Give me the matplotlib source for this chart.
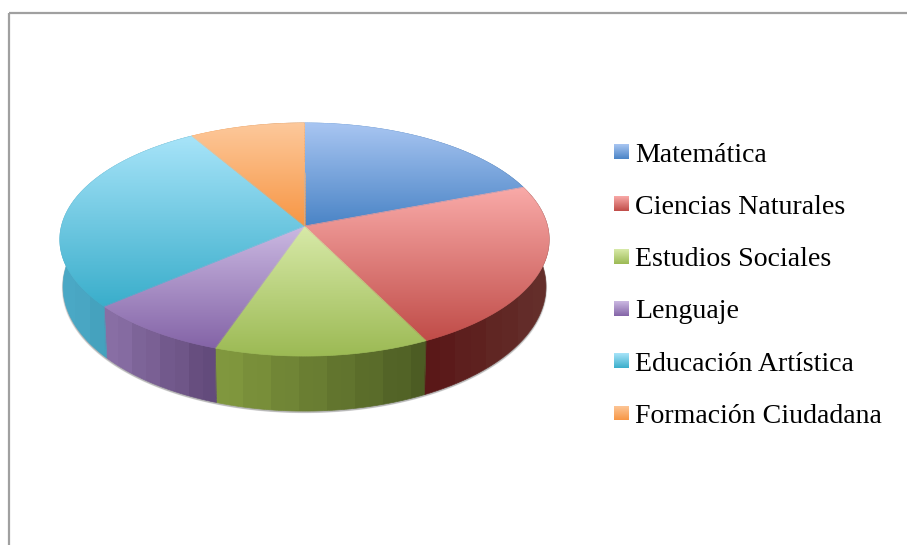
import numpy as np
import matplotlib
matplotlib.use("Agg")
import matplotlib.pyplot as plt
from matplotlib.patches import Polygon
from matplotlib.collections import LineCollection
from matplotlib.colors import LinearSegmentedColormap

# datos (porcentaje de cada materia)
materias = ["Matemática", "Ciencias Naturales", "Estudios Sociales",
            "Lenguaje", "Educación Artística", "Formación Ciudadana"]
valores = [19.3, 23.3, 12.7, 8.5, 27.7, 8.5]

color_claro = ["#a9c6f2", "#f9aaa8", "#d8eaa9", "#cbb9e2", "#a8e4f9", "#fdc99c"]
color_oscuro = ["#4a84c6", "#c04c48", "#9cba54", "#8464a7", "#3aaecb", "#f79644"]
pared_izq = ["#4a84c6", "#5a1818", "#82993f", "#8a70a6", "#4ba9c6", "#f79644"]
pared_der = ["#2f5f94", "#66332e", "#4a5a22", "#5d4575", "#3690a8", "#b06a30"]

# geometria del pastel en pixeles
cx, cy = 304.5, 226.0
A, B, k = 243.0, 115.0, 0.116
grosor = 46.0

fig = plt.figure(figsize=(9.07, 5.45), dpi=100)
ax = fig.add_axes([0, 0, 1, 1])


def arco(t1, t2):
    t = np.radians(np.linspace(t1, t2, max(int(t2 - t1) * 2, 3)))
    return np.sin(t), np.cos(t)


def tapa(u, v):
    w = 1 + k * v
    return cx + A * u / w, cy - B * v / w


def base(u, v):
    x, y = tapa(u, v)
    return cx + 0.987 * (x - cx), cy + grosor + 1.069 * (y - cy)


def degradado(xy, c1, c2, z, vertical=True, ancho_banda=0, borde=True):
    # imagen con degradado recortada por el poligono
    x0, x1, y0, y1 = xy[:, 0].min(), xy[:, 0].max(), xy[:, 1].min(), xy[:, 1].max()
    cmap = LinearSegmentedColormap.from_list("g", [c1, c2])
    g = np.linspace(0, 1, 256)
    if ancho_banda:
        bandas = max(int((x1 - x0) / ancho_banda), 2)
        idx = np.floor(g * bandas)
        g = np.clip(idx / bandas + 0.025 * np.where(idx % 2 == 0, 1, -1), 0, 1)
    g2 = g[:, None] if vertical else g[None, :]
    im = ax.imshow(g2, extent=(x0, x1, y1, y0), aspect="auto", cmap=cmap, vmin=0, vmax=1,
                   interpolation="nearest" if ancho_banda else "bilinear", zorder=z)
    poly = Polygon(xy, closed=True, fc="none", ec="none", zorder=z)
    ax.add_patch(poly)
    im.set_clip_path(poly)
    if not borde:
        return
    # borde fino para suavizar el recorte, en tramos cortos para seguir el degradado
    pts = np.r_[xy, xy[:1]]
    segs = []
    for a, b in zip(pts[:-1], pts[1:]):
        n = max(int(np.hypot(*(b - a)) / 3), 1)
        p = a + np.linspace(0, 1, n + 1)[:, None] * (b - a)
        segs.extend(np.stack([p[:-1], p[1:]], axis=1))
    segs = np.array(segs)
    if vertical:
        t = (segs[:, :, 1].mean(axis=1) - y0) / max(y1 - y0, 1)
    else:
        t = (segs[:, :, 0].mean(axis=1) - x0) / max(x1 - x0, 1)
    ax.add_collection(LineCollection(segs, colors=cmap(t), linewidths=0.5, zorder=z + 0.1))


# sombra debajo del pastel
u, v = arco(0, 360)
xb, yb = base(u, v)
for i in range(5):
    s = 1 + 0.0013 * (4 - i)
    ax.add_patch(Polygon(np.c_[cx + s * (xb - cx), 282 + s * (yb - 282) + 1.5], closed=True,
                         fc="#555555", ec="none", alpha=0.10, zorder=1))

angulos = np.cumsum([0] + valores) / sum(valores) * 360

# paredes
for i in range(len(valores)):
    u, v = arco(angulos[i], angulos[i + 1])
    xt, yt = tapa(u, v)
    xb, yb = base(u, v)
    degradado(np.r_[np.c_[xt, yt], np.c_[xb, yb][::-1]], pared_izq[i], pared_der[i], 2,
              vertical=False, ancho_banda=14)

# tapa
for i in range(len(valores)):
    u, v = arco(angulos[i], angulos[i + 1])
    xt, yt = tapa(u, v)
    degradado(np.r_[[[cx, cy]], np.c_[xt, yt]], color_claro[i], color_oscuro[i], 3)

# leyenda
for i, nombre in enumerate(materias):
    y0 = 144 + i * 52.3
    xy = np.array([[614, y0], [629, y0], [629, y0 + 15], [614, y0 + 15]])
    degradado(xy, color_claro[i], color_oscuro[i], 4, borde=False)
    ax.text(635, y0 + 11, nombre, family="Liberation Serif", fontsize=20.1, color="black",
            va="center", ha="left", zorder=5)

# marco
ax.plot([9, 9], [545, 13], color="#a0a0a0", lw=1.6, zorder=6, solid_capstyle="butt")
ax.plot([9, 907], [13, 13], color="#a0a0a0", lw=1.6, zorder=6, solid_capstyle="butt")

ax.set_xlim(0, 907)
ax.set_ylim(545, 0)
ax.axis("off")
fig.savefig("out.png", dpi=100)
